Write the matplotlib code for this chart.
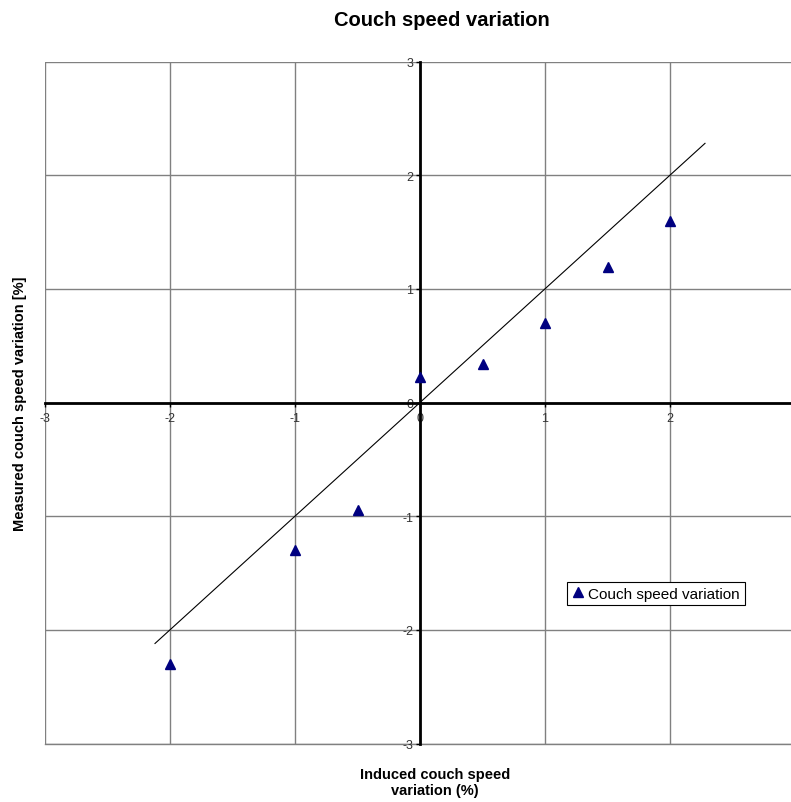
import matplotlib
matplotlib.use("Agg")
import matplotlib.pyplot as plt
import numpy as np

plt.rcParams['font.family'] = ['Liberation Sans', 'DejaVu Sans']
plt.rcParams['axes.unicode_minus'] = False

# measured vs induced couch speed variation (%)
induced = [-2, -1, -0.5, 0, 0.5, 1, 1.5, 2]
measured = [-2.3, -1.3, -0.95, 0.22, 0.34, 0.7, 1.19, 1.6]
ideal_x = [-2.12, 2.28]
ticks = [-3, -2, -1, 0, 1, 2, 3]
xtick_labels = ['-3', '-2', '-1', '0', '1', '2', '']

W, H = 791, 803
fig = plt.figure(figsize=(W / 100, H / 100), dpi=100)
# plot area runs a bit past the right edge, like the original export
ax = fig.add_axes([45 / W, 1 - 744.5 / H, 750 / W, 682 / H])

ax.plot(ideal_x, ideal_x, color='black', lw=0.8, zorder=3)
ax.plot(induced, measured, linestyle='none', marker='^', markersize=7,
        color='#000080', label='Couch speed variation', zorder=4)

ax.set_xlim(-3, 3)
ax.set_ylim(-3, 3)
ax.set_xticks(ticks)
ax.set_xticklabels(xtick_labels)
ax.set_yticks(ticks)
ax.grid(True, color='#808080', lw=1)
ax.set_axisbelow(True)
for gl in ax.get_xgridlines() + ax.get_ygridlines():
    gl.set_clip_on(False)
# bottom border of the plot area (edge gridline comes out faint)
ax.axhline(ticks[0], color='#808080', lw=1, clip_on=False, zorder=0.5)

for s in ['top', 'right']:
    ax.spines[s].set_visible(False)
ax.spines['left'].set_position(('data', 0))
ax.spines['bottom'].set_position(('data', 0))
for s in ['left', 'bottom']:
    ax.spines[s].set_linewidth(2)
    ax.spines[s].set_color('black')
    ax.spines[s].set_zorder(2)
ax.tick_params(axis='both', direction='out', length=3, width=1,
               labelsize=9, labelcolor='#333333', pad=2)
ax.tick_params(axis='x', pad=4)

fig.text(442 / W, 1 - 20 / H, 'Couch speed variation', ha='center', va='center',
         fontsize=14.5, fontweight='bold')
fig.text(20 / W, 1 - 404 / H, 'Measured couch speed variation [%]', rotation=90,
         ha='center', va='center', fontsize=10.5, fontweight='bold')
fig.text(435 / W, 1 - 783 / H, 'Induced couch speed\nvariation (%)', ha='center',
         va='center', fontsize=10.5, fontweight='bold', linespacing=1.25)

leg = ax.legend(loc='upper left', bbox_to_anchor=(567 / W, 1 - 583 / H),
                bbox_transform=fig.transFigure, fancybox=False, framealpha=1,
                edgecolor='black', fontsize=11, handlelength=0.8,
                handletextpad=0.3, borderpad=0.3, borderaxespad=0)
leg.get_frame().set_linewidth(0.8)

fig.savefig('out.png', dpi=100)
